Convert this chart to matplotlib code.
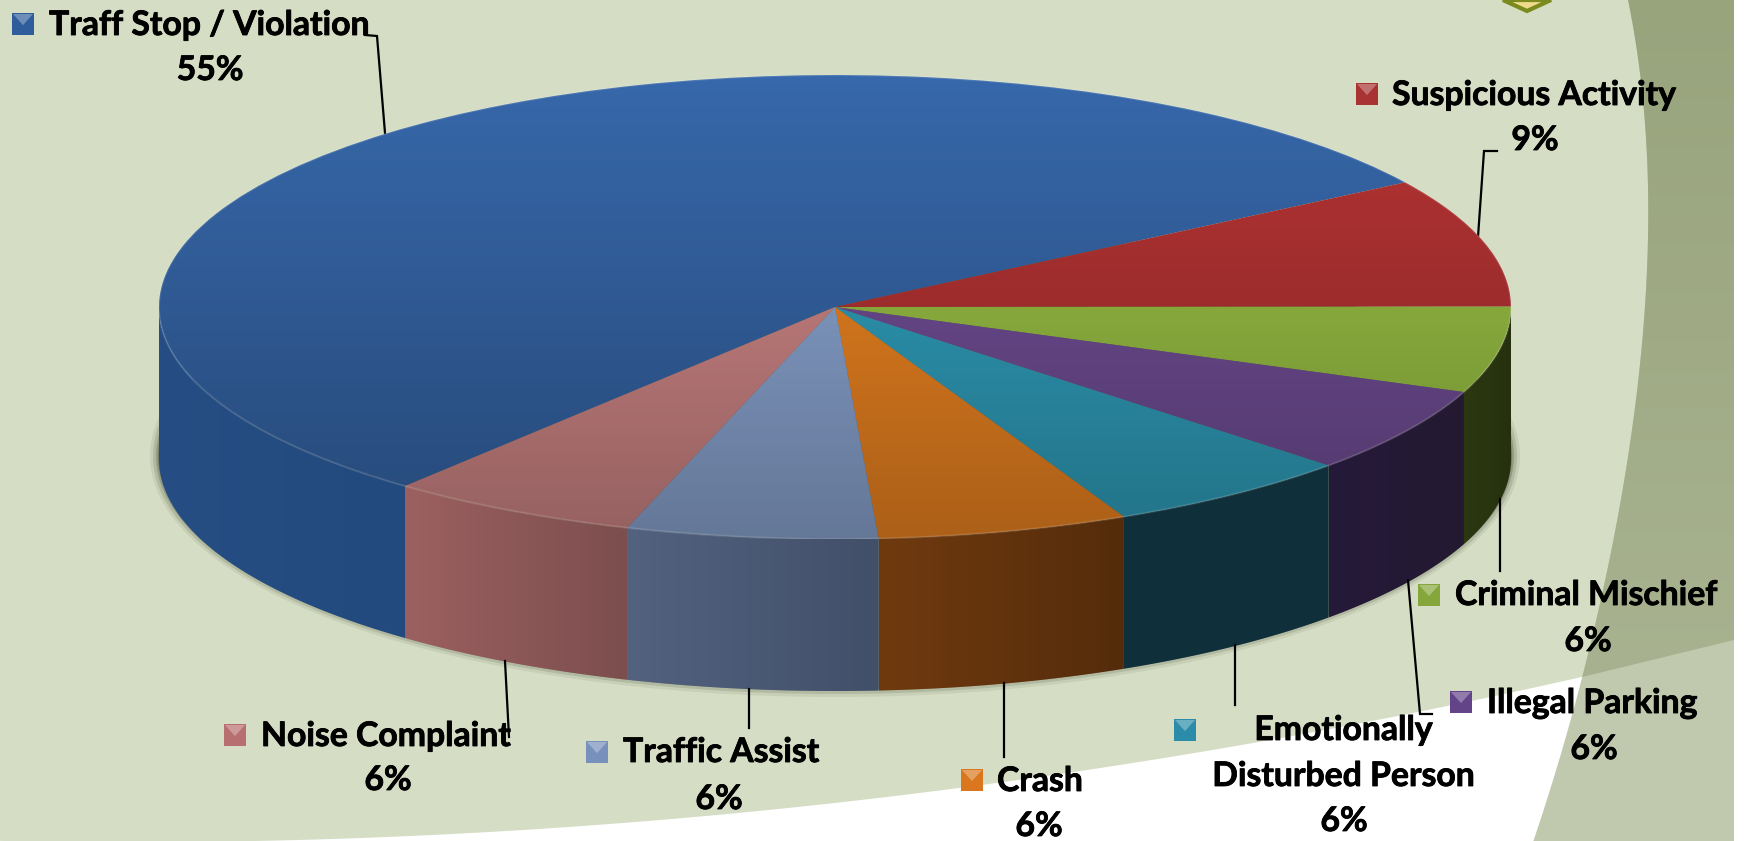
import numpy as np
import matplotlib
matplotlib.use("Agg")
import matplotlib.pyplot as plt
import matplotlib.patheffects as pe
from matplotlib.colors import LinearSegmentedColormap
from matplotlib.patches import Circle, Ellipse, Polygon, Rectangle

plt.rcParams['font.family'] = ['Lato', 'DejaVu Sans']

# ===== data =====
categories = ["Traff Stop / Violation", "Suspicious Activity", "Criminal Mischief",
              "Illegal Parking", "Emotionally\nDisturbed Person", "Crash",
              "Traffic Assist", "Noise Complaint"]
shares = [55, 9, 6, 6, 6, 6, 6, 6]

# ===== style =====
face_colors = ['#3768AB', '#B83434', '#9DC545', '#74509A', '#31A4C2', '#F48822', '#8FAAD8', '#D68A8A']
marker_colors = ['#2F5D9B', '#A93232', '#84A63A', '#644489', '#2A8CA8', '#D9761E', '#7790BC', '#B86F6F']
wall_left = ['#264E84', '#7E2222', '#2C3812', '#261A3A', '#0F2F3B', '#703A0F', '#52627F', '#9C6060']
wall_right = ['#234A7E', '#7E2222', '#26300E', '#231931', '#10303A', '#542C0B', '#424F69', '#7C4E4E']

W, H = 1750, 841
cx, cy, rx, ry = 835, 307, 676, 232
depth = 152
start_angle = 230.5

# legend square x,y (top left), text x,y (left, centre), percent x,y (centre)
square_xy = [(12, 13), (1356, 83), (1418, 584), (1450, 691), (1174, 719), (961, 769), (586, 741), (224, 724)]
label_xy = [(49, 25), (1392, 95), (1455, 595), (1487, 703), (None, None), (997, 781), (623, 752), (261, 736)]
percent_xy = [(210, 70), (1535, 140), (1588, 641), (1594, 749), (1344, 821), (1039, 826), (719, 799), (388, 780)]

leaders = [[(365, 35), (377, 36), (385, 133)],
           [(1478, 237), (1484, 151), (1497, 151)],
           [(1500, 499), (1500, 571)],
           [(1408, 580), (1420, 714), (1432, 714)],
           [(1235, 645), (1235, 705)],
           [(1004, 683), (1004, 757)],
           [(749, 689), (749, 728)],
           [(505, 661), (509, 737)]]

fig = plt.figure(figsize=(W / 100, H / 100), dpi=100, facecolor='white')
ax = fig.add_axes([0, 0, 1, 1])


def grad_fill(axis, verts, c1, c2, extent, horizontal=False, zorder=1):
    cmap = LinearSegmentedColormap.from_list('g', [c1, c2])
    g = np.linspace(0, 1, 256).reshape(1, -1) if horizontal else np.linspace(0, 1, 256).reshape(-1, 1)
    im = axis.imshow(g, cmap=cmap, extent=extent, origin='upper', aspect='auto', zorder=zorder)
    p = Polygon(verts, closed=True, transform=axis.transData, fc='none', ec='none')
    axis.add_patch(p)
    im.set_clip_path(p)
    return im


# ===== background =====
right_edge = 1734
ax.add_patch(Rectangle((0, 0), right_edge, H, fc='#D5DDC5', ec='none', zorder=0))

# white swoosh
sx = np.array([0, 350, 700, 1150, 1582])
sy = np.array([841, 838, 817, 760, 677])
swoosh = np.polyfit(sx, sy, 3)
top_x = np.linspace(0, 1600, 120)
top_y = np.polyval(swoosh, top_x)

# right strip boundary
by = np.array([0, 70, 200, 320, 400, 480, 580, 677, 760, 841])
bx = np.array([1628, 1640, 1647, 1645, 1637, 1623, 1605, 1582, 1560, 1533])
strip = np.polyfit(by, bx, 4)
edge_y = np.linspace(0, H, 150)
edge_x = np.polyval(strip, edge_y)

white = list(zip(top_x, top_y)) + [(1600, H), (0, H)]
ax.add_patch(Polygon(white, closed=True, fc='white', ec='none', zorder=0.5))
ax.add_patch(Polygon(list(zip(edge_x, edge_y)) + [(right_edge, H), (right_edge, 0)], closed=True,
                     fc='#C0C9AE', ec='none', zorder=0.6))
ax.add_patch(Rectangle((right_edge, 0), W - right_edge, H, fc='white', ec='none', zorder=0.7))

# darker upper part of the strip
band_y = np.linspace(0, 677, 100)
band = list(zip(np.polyval(strip, band_y), band_y)) + [(right_edge, 640), (right_edge, 0)]
grad_fill(ax, band, '#98A47C', '#A8B290', (1500, right_edge, 680, 0), zorder=0.8)

# logo tip, cut off by the top edge
ax.add_patch(Polygon([(1503, 0), (1527, 11), (1551, 0)], closed=True, fc='#EFD98A', ec='#7A8A1E', lw=3, zorder=1))

# ===== shadow =====
for grow, alpha in [(9, 0.10), (6, 0.18), (3, 0.30), (1, 0.45)]:
    ax.add_patch(Ellipse((cx, cy + depth - 3), 2 * (rx + grow), 2 * (ry + grow),
                         fc='#4F5640', ec='none', alpha=alpha, zorder=2))

# ===== side walls =====
a = start_angle
for i, s in enumerate(shares):
    b = a - s * 3.6
    # front half of the cylinder is -180..0 degrees
    t1 = ((a + 180) % 360) - 180
    t2 = t1 - s * 3.6
    if t1 > 0 and t2 < 0:
        t1 = 0
    if t1 > 0:
        a = b
        continue
    t2 = max(t2, -180)
    t = np.radians(np.linspace(t1, t2, 80))
    x = cx + rx * np.cos(t)
    y = cy - ry * np.sin(t)
    verts = list(zip(x, y)) + list(zip(x[::-1], y[::-1] + depth))
    left, right = x.min(), x.max()
    grad_fill(ax, verts, wall_left[i], wall_right[i], (left, right, 800, 0), horizontal=True, zorder=3)
    a = b

ax.set_xlim(0, W)
ax.set_ylim(H, 0)
ax.axis('off')

# ===== leader lines =====
for line in leaders:
    pts = np.array(line)
    ax.plot(pts[:, 0], pts[:, 1], color='black', lw=1.6, zorder=6, solid_joinstyle='miter')

# ===== top face =====
ax_pie = fig.add_axes([(cx - rx) / W, 1 - (cy + ry) / H, 2 * rx / W, 2 * ry / H])
ax_pie.pie(shares, colors=face_colors, startangle=start_angle, counterclock=False, radius=1,
           wedgeprops={'linewidth': 0.4, 'edgecolor': 'none'})
shade = np.zeros((256, 1, 4))
shade[:, 0, 3] = np.linspace(0.0, 0.30, 256)
im = ax_pie.imshow(shade, extent=(-1, 1, -1, 1), origin='upper', aspect='auto', zorder=5)
clip = Circle((0, 0), 1, transform=ax_pie.transData, fc='none', ec='none')
ax_pie.add_patch(clip)
im.set_clip_path(clip)
ax_pie.add_patch(Circle((0, 0), 1, fc='none', ec='white', alpha=0.12, lw=1.5, zorder=6))
ax_pie.set_aspect('auto')
ax_pie.set_xlim(-1, 1)
ax_pie.set_ylim(-1, 1)
ax_pie.axis('off')

# ===== legend squares and labels (drawn over the pie axes) =====
ax_top = fig.add_axes([0, 0, 1, 1], facecolor='none')
ax_top.set_xlim(0, W)
ax_top.set_ylim(H, 0)
ax_top.axis('off')

FS = 24.3
heavy = [pe.withStroke(linewidth=0.6, foreground='black')]
for i, name in enumerate(categories):
    sqx, sqy = square_xy[i]
    size = 22
    ax_top.add_patch(Rectangle((sqx, sqy), size, size, fc=marker_colors[i], ec='none'))
    ax_top.add_patch(Polygon([(sqx + 1, sqy + 1), (sqx + size - 1, sqy + 1), (sqx + size / 2, sqy + size * 0.55)],
                             closed=True, fc='white', alpha=0.3, ec='none'))
    if "\n" in name:
        first, second = name.split("\n")
        ax_top.text(1343.5, 730, first, ha='center', va='center', fontsize=FS, fontweight='bold',
                    color='black', path_effects=heavy)
        ax_top.text(1343.5, 776, second, ha='center', va='center', fontsize=FS, fontweight='bold',
                    color='black', path_effects=heavy)
    else:
        ax_top.text(label_xy[i][0], label_xy[i][1], name, ha='left', va='center',
                    fontsize=FS, fontweight='bold', color='black', path_effects=heavy)
    ax_top.text(percent_xy[i][0], percent_xy[i][1], f"{shares[i]}%", ha='center', va='center',
                fontsize=FS, fontweight='bold', color='black', path_effects=heavy)

fig.savefig("out.png", dpi=100)
